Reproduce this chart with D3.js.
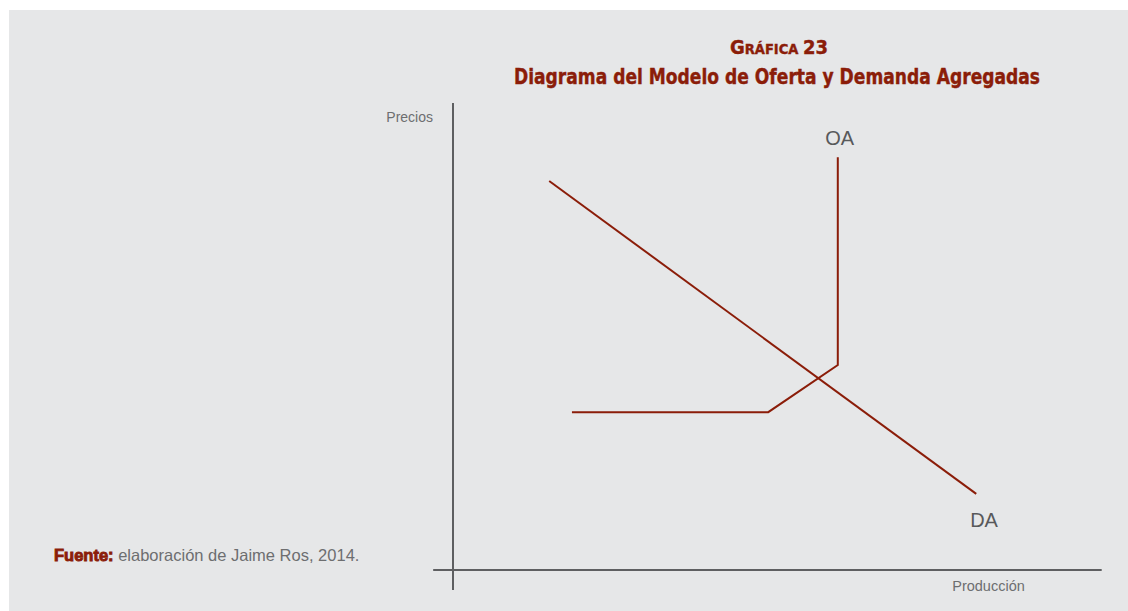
<!DOCTYPE html>
<html>
<head>
<meta charset="utf-8">
<script src="https://cdn.jsdelivr.net/npm/d3@7"></script>
<style>
  body { margin: 0; background: #fff; }
</style>
</head>
<body>
<script>
// curve points, in (produccion, precios) units 0..100
const daX = [14.8, 80.5]
const daY = [83.3, 16.3]
const oaX = [18.3, 48.5, 59.2, 59.2]
const oaY = [33.8, 33.8, 43.9, 88.4]
const curveLabels = ['OA', 'DA']
const labelX = [59.5, 81.7]
const labelY = [90.9, 9.2]

const width = 1128
const height = 611
const red = '#8b1d09'
const axisGray = '#5e5f61'

const svg = d3.select('body')
  .append('svg')
  .attr('width', width)
  .attr('height', height)

svg.append('rect')
  .attr('x', 9)
  .attr('y', 10)
  .attr('width', width - 9)
  .attr('height', height - 10)
  .attr('fill', '#e6e7e8')

const x = d3.scaleLinear().domain([0, 100]).range([453, 1103])
const y = d3.scaleLinear().domain([0, 100]).range([570, 103])

// axes (plain lines, no ticks)
svg.append('line')
  .attr('x1', x(-3.05)).attr('x2', x(99.8))
  .attr('y1', y(0)).attr('y2', y(0))
  .attr('stroke', axisGray).attr('stroke-width', 2)

svg.append('line')
  .attr('x1', x(0)).attr('x2', x(0))
  .attr('y1', y(-4.3)).attr('y2', y(100))
  .attr('stroke', axisGray).attr('stroke-width', 2)

const line = d3.line()
  .x(d => x(d[0]))
  .y(d => y(d[1]))

svg.append('path')
  .attr('d', line(d3.zip(daX, daY)))
  .attr('fill', 'none')
  .attr('stroke', red)
  .attr('stroke-width', 2)

svg.append('path')
  .attr('d', line(d3.zip(oaX, oaY)))
  .attr('fill', 'none')
  .attr('stroke', red)
  .attr('stroke-width', 2)

svg.selectAll('.clabel')
  .data(curveLabels)
  .enter()
  .append('text')
  .attr('class', 'clabel')
  .attr('x', (d, i) => x(labelX[i]))
  .attr('y', (d, i) => y(labelY[i]))
  .attr('text-anchor', 'middle')
  .attr('font-family', 'Liberation Sans, Arial, sans-serif')
  .attr('font-size', 20)
  .attr('fill', '#58595b')
  .text(d => d)

svg.append('text')
  .attr('x', 433)
  .attr('y', 122)
  .attr('text-anchor', 'end')
  .attr('font-family', 'Liberation Sans, Arial, sans-serif')
  .attr('font-size', 14)
  .attr('fill', '#6d6e70')
  .text('Precios')

svg.append('text')
  .attr('x', 988.5)
  .attr('y', 591)
  .attr('text-anchor', 'middle')
  .attr('font-family', 'Liberation Sans, Arial, sans-serif')
  .attr('font-size', 14.5)
  .attr('fill', '#6d6e70')
  .text('Producción')

// title
const title = svg.append('text')
  .attr('x', 779)
  .attr('y', 54)
  .attr('text-anchor', 'middle')
  .attr('font-family', 'DejaVu Sans Condensed, DejaVu Sans, sans-serif')
  .attr('font-weight', 'bold')
  .attr('fill', red)
  .attr('stroke', red)
  .attr('stroke-width', 0.4)
title.append('tspan').attr('font-size', 20).text('G')
title.append('tspan').attr('font-size', 14.5).text('RÁFICA ')
title.append('tspan').attr('font-size', 20).text('23')

svg.append('text')
  .attr('x', 514)
  .attr('y', 84)
  .attr('textLength', 526)
  .attr('lengthAdjust', 'spacingAndGlyphs')
  .attr('font-family', 'DejaVu Sans Condensed, DejaVu Sans, sans-serif')
  .attr('font-weight', 'bold')
  .attr('font-size', 22)
  .attr('fill', red)
  .attr('stroke', red)
  .attr('stroke-width', 0.4)
  .text('Diagrama del Modelo de Oferta y Demanda Agregadas')

// source
const src = svg.append('text')
  .attr('x', 54)
  .attr('y', 561)
  .attr('font-family', 'Liberation Sans, Arial, sans-serif')
  .attr('font-size', 16.5)
src.append('tspan')
  .attr('font-weight', 'bold')
  .attr('fill', red)
  .attr('stroke', red)
  .attr('stroke-width', 0.9)
  .text('Fuente:')
src.append('tspan')
  .attr('fill', '#6d6e70')
  .text(' elaboración de Jaime Ros, 2014.')
</script>
</body>
</html>
